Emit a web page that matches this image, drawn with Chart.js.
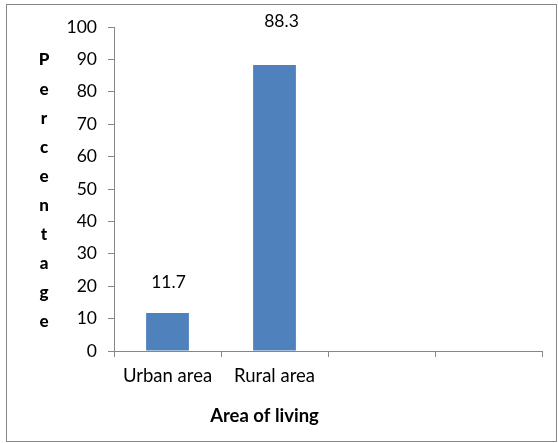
<!DOCTYPE html>
<html lang="en">
<head>
<meta charset="UTF-8">
<script src="https://cdn.jsdelivr.net/npm/chart.js@4.4.1/dist/chart.umd.min.js"></script>
<title>Area of living</title>
<style>
  html, body { margin: 0; padding: 0; background: #fff; }
  #wrap { position: relative; width: 558px; height: 443px; }
</style>
</head>
<body>
<div id="wrap"><canvas id="myChart" width="558" height="443"></canvas></div>
<script>
// categories and values
const areas = ['Urban area', 'Rural area', '', ''];
const percentage = [11.7, 88.3, null, null];
const yTicks = [0, 10, 20, 30, 40, 50, 60, 70, 80, 90, 100];

const FONT = 'Lato, "Open Sans", sans-serif';
const AXIS_GREY = '#868686';

// outer frame
const framePlugin = {
  id: 'frame',
  beforeDraw(chart) {
    const ctx = chart.ctx;
    ctx.save();
    ctx.fillStyle = '#fff';
    ctx.fillRect(0, 0, chart.width, chart.height);
    ctx.strokeStyle = AXIS_GREY;
    ctx.lineWidth = 1;
    ctx.strokeRect(6.5, 4.5, 550, 437);
    ctx.restore();
  }
};

// value labels above the bars
const valueLabels = {
  id: 'valueLabels',
  afterDatasetsDraw(chart, args, opts) {
    const ctx = chart.ctx;
    const meta = chart.getDatasetMeta(0);
    ctx.save();
    ctx.font = '17.5px ' + FONT;
    ctx.fillStyle = '#000';
    ctx.textAlign = 'center';
    ctx.textBaseline = 'middle';
    meta.data.forEach((bar, i) => {
      const v = percentage[i];
      if (v == null) return;
      ctx.fillText(String(v), bar.x + opts.dx[i], bar.y - opts.dy[i]);
    });
    ctx.restore();
  }
};

// axis titles: stacked letters on the left, bold title under the axis
const axisTitles = {
  id: 'axisTitles',
  afterDraw(chart) {
    const ctx = chart.ctx;
    const area = chart.chartArea;
    const x = chart.scales.x;
    ctx.save();
    ctx.fillStyle = '#000';
    ctx.textAlign = 'center';
    ctx.textBaseline = 'middle';
    ctx.font = '900 17px ' + FONT;
    const letters = 'Percentage'.split('');
    letters.forEach((ch, i) => {
      ctx.fillText(ch, 44, 60 + i * 29.1);
    });
    ctx.font = 'bold 18.5px ' + FONT;
    ctx.fillText('Area of living', x.getPixelForValue(1) - 10, area.bottom + 65);
    ctx.restore();
  }
};

const config = {
  type: 'bar',
  data: {
    labels: areas,
    datasets: [{
      data: percentage,
      backgroundColor: '#4F81BD',
      borderWidth: 0,
      barPercentage: 0.8,
      categoryPercentage: 0.5
    }]
  },
  options: {
    responsive: false,
    animation: false,
    layout: { padding: { left: 0, top: 27, right: 16, bottom: 0 } },
    plugins: {
      legend: { display: false },
      tooltip: { enabled: false },
      valueLabels: { dy: [31, 44], dx: [1, 7] }
    },
    scales: {
      x: {
        grid: {
          offset: true,
          drawOnChartArea: false,
          drawTicks: true,
          tickLength: 6,
          color: AXIS_GREY
        },
        border: { display: true, color: AXIS_GREY },
        ticks: {
          color: '#000',
          font: { family: FONT, size: 18.5 },
          padding: 8,
          maxRotation: 0
        },
        afterFit(scale) { scale.height = 92; }
      },
      y: {
        min: 0,
        max: 100,
        afterBuildTicks(scale) {
          scale.ticks = yTicks.map(v => ({ value: v }));
        },
        grid: {
          drawOnChartArea: false,
          drawTicks: true,
          tickLength: 6,
          color: AXIS_GREY
        },
        border: { display: true, color: AXIS_GREY },
        ticks: {
          color: '#000',
          font: { family: FONT, size: 17.5 },
          padding: 11
        },
        afterFit(scale) { scale.width = 114; }
      }
    }
  },
  plugins: [framePlugin, valueLabels, axisTitles]
};

window.myChart = new Chart(document.getElementById('myChart').getContext('2d'), config);
</script>
</body>
</html>
